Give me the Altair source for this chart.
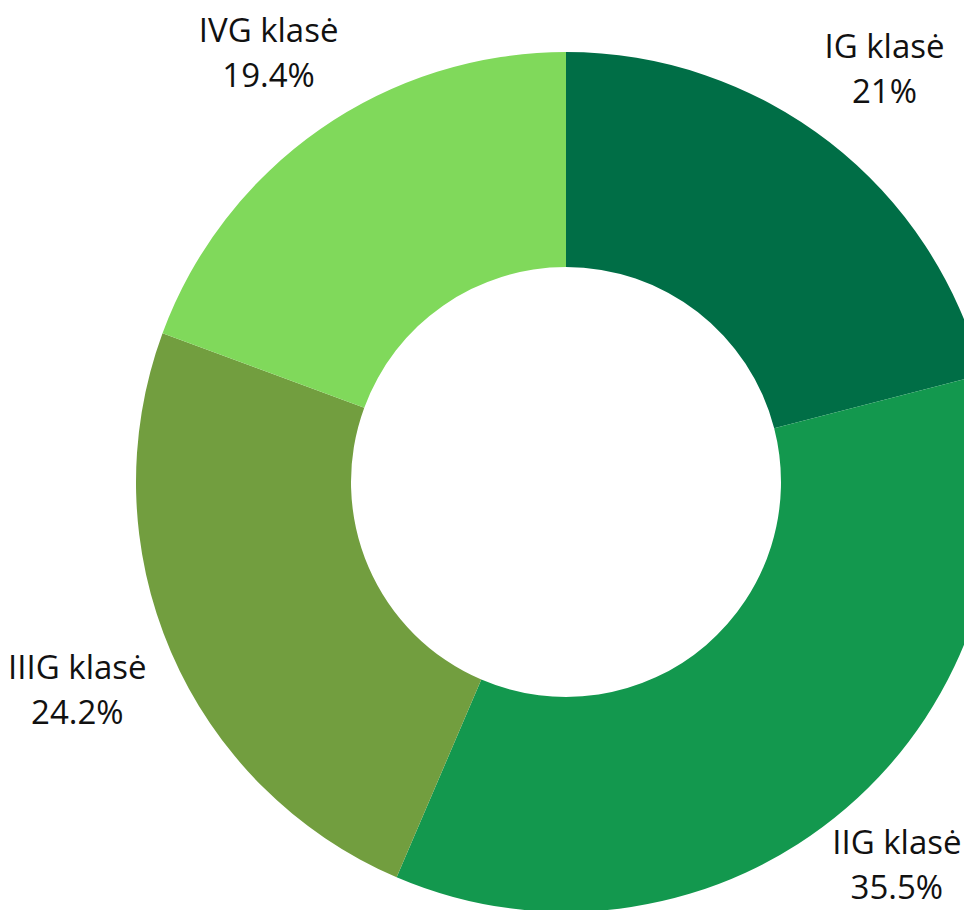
import altair as alt
import pandas as pd

categories = ["IG klasė", "IIG klasė", "IIIG klasė", "IVG klasė"]
values = [21, 35.5, 24.2, 19.4]
pct_labels = ["21%", "35.5%", "24.2%", "19.4%"]
colors = ["#006E46", "#13984E", "#729E3F", "#80D95B"]
label_radius = [520, 508, 532, 520]

df = pd.DataFrame({
    "cat": categories,
    "val": values,
    "order": list(range(len(categories))),
    "label": [f"{c}\n{p}" for c, p in zip(categories, pct_labels)],
})

CX, CY = 558, 474

base = alt.Chart(df).encode(
    theta=alt.Theta("val:Q", stack=True),
    order=alt.Order("order:Q"),
)

arcs = base.mark_arc(outerRadius=430, innerRadius=215, stroke=None).encode(
    color=alt.Color("cat:N", scale=alt.Scale(domain=categories, range=colors), legend=None),
    x=alt.value(CX),
    y=alt.value(CY),
)

text_style = dict(
    fontSize=33, font="Open Sans", color="#111111",
    lineBreak="\n", lineHeight=45, align="center", baseline="middle", dy=-23,
)

layers = [arcs]
for cat, r in zip(categories, label_radius):
    layers.append(
        base.transform_calculate(
            t=f"datum.cat === '{cat}' ? datum.label : ''"
        ).mark_text(radius=r, **text_style).encode(
            text="t:N", x=alt.value(CX), y=alt.value(CY),
        )
    )

chart = alt.layer(*layers).properties(
    width=956, height=902, autosize=alt.AutoSizeParams(type="none"), padding=0
).configure_view(stroke=None)

chart.save("out.html", embed_options={"renderer": "svg", "actions": False})
